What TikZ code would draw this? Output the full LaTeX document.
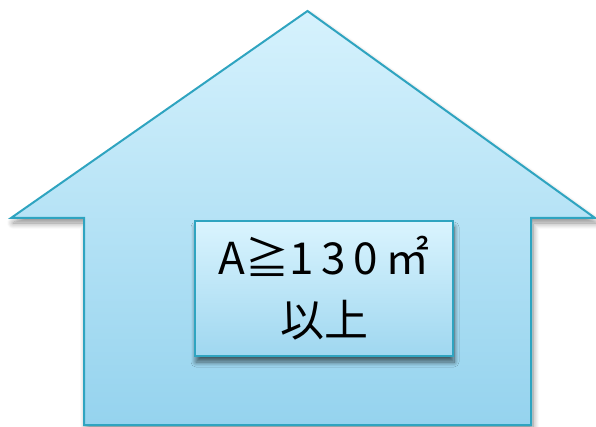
\documentclass[tikz,border=0pt]{standalone}
\usepackage{fontspec}
\newfontfamily\cjk{Noto Sans CJK JP}
\usetikzlibrary{shadows.blur}
\definecolor{edge}{HTML}{2FA4C0}
\definecolor{housetop}{HTML}{D6F2FD}
\definecolor{housebot}{HTML}{95D3EE}
\definecolor{boxtop}{HTML}{DAF4FE}
\definecolor{boxbot}{HTML}{9FD7F0}
\tikzset{
  housestyle/.style={draw=edge, line width=2pt, line join=miter, top color=housetop, bottom color=housebot,
    blur shadow={shadow xshift=2pt, shadow yshift=-5pt, shadow blur steps=10, shadow blur radius=6pt, shadow opacity=45}},
  labelbox/.style={draw=edge, line width=2pt, top color=boxtop, bottom color=boxbot,
    minimum width=258pt, minimum height=135pt, inner sep=0pt,
    blur shadow={shadow xshift=1pt, shadow yshift=-6pt, shadow blur steps=10, shadow blur radius=5pt, shadow opacity=60},
    font=\cjk\fontsize{44}{62}\selectfont, align=center, text=black}
}
\begin{document}
\begin{tikzpicture}[x=1pt,y=-1pt]
\useasboundingbox (0,0) rectangle (596,427);
\path[housestyle] (307.5,11) -- (595,218) -- (531,218) -- (531,425) -- (84,425) -- (84,218) -- (11,218) -- cycle;
\node[labelbox] (lbl) at (324,288.5) {A≧1\,3\,0\,㎡\\以上};
\end{tikzpicture}
\end{document}
